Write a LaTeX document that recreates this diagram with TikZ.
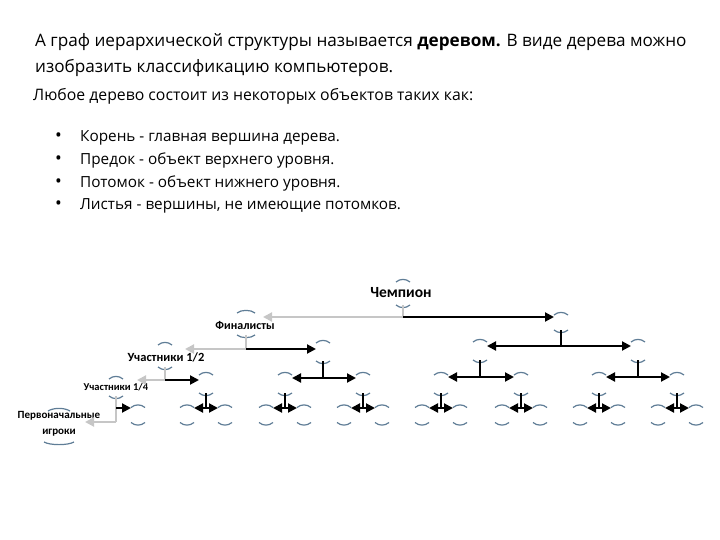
\documentclass[tikz,border=0pt]{standalone}
\usepackage{fontspec}
\setmainfont{Open Sans}
\newfontfamily\lblfont{Carlito}
\usetikzlibrary{arrows.meta,calc}
\definecolor{arcc}{RGB}{95,125,150}
\definecolor{grayl}{RGB}{198,198,198}
\newcommand\nodearcs[1]{%
  \draw[arcst] (#1.north west) .. controls ($(#1.north west)+(4,-3.5)$) and ($(#1.north east)+(-4,-3.5)$) .. (#1.north east);
  \draw[arcst] (#1.south west) .. controls ($(#1.south west)+(4,3.5)$) and ($(#1.south east)+(-4,3.5)$) .. (#1.south east);}
\begin{document}
\begin{tikzpicture}[x=1pt,y=-1pt,
  slot/.style={inner sep=0pt,outer sep=0pt,minimum width=14pt,minimum height=#1},
  slot/.default=18pt,
  arcst/.style={draw=arcc,line width=1.2pt},
  bline/.style={draw=black,line width=1.6pt},
  gline/.style={draw=grayl,line width=1.6pt},
  barr/.style={draw=black,line width=2pt,-{Triangle[length=9pt,width=9pt]}},
  garr/.style={draw=grayl,line width=2pt,-{Triangle[length=9pt,width=9pt]}},
  hdr/.style={anchor=base west,inner sep=0pt,font=\fontsize{17.15}{20}\selectfont},
  sub/.style={anchor=base west,inner sep=0pt,font=\fontsize{15.3}{18}\selectfont},
  lbl/.style={inner sep=0pt,font=\lblfont\bfseries\fontsize{#1}{#1}\selectfont},
]
\useasboundingbox (0,0) rectangle (720,540);

% ---------- text ----------
\node[hdr] (t1) at (35,47) {А граф иерархической структуры называется \textbf{деревом.} В виде дерева можно};
\node[hdr] (t2) at (35,73) {изобразить классификацию компьютеров.};
\node[sub,font=\fontsize{15.8}{18}\selectfont] (t3) at (33,101) {Любое дерево состоит из некоторых объектов таких как:};
\node[sub,font=\fontsize{18}{18}\selectfont] (b1t) at (55,142) {•};
\node[sub,font=\fontsize{18}{18}\selectfont] (b2t) at (55,165) {•};
\node[sub,font=\fontsize{18}{18}\selectfont] (b3t) at (55,188) {•};
\node[sub,font=\fontsize{18}{18}\selectfont] (b4t) at (55,210) {•};
\node[sub] (l1) at (80,142) {Корень - главная вершина дерева.};
\node[sub] (l2) at (80,165) {Предок - объект верхнего уровня.};
\node[sub] (l3) at (80,188) {Потомок - объект нижнего уровня.};
\node[sub] (l4) at (80,210) {Листья - вершины, не имеющие потомков.};

% ---------- tree slots ----------
\node[slot=23pt] (C) at (403,293.5) {};
\node[slot=22pt,minimum width=18pt] (F) at (246,324) {};
\node[slot=15pt] (a) at (561,322.5) {};
\node[slot=22pt] (U2) at (165,356) {};
\node[slot] (b1) at (323,352) {};
\node[slot] (b2) at (480,351) {};
\node[slot] (b3) at (638,351) {};
\node[slot=17pt] (U4) at (116,387.5) {};
\node[slot] (c2) at (206,384) {};
\node[slot] (c3) at (285,384) {};
\node[slot] (c4) at (363,384) {};
\node[slot] (c5) at (441,384) {};
\node[slot] (c6) at (521,384) {};
\node[slot] (c7) at (599,384) {};
\node[slot] (c8) at (677,384) {};
\node[slot=31pt,minimum width=22pt] (P) at (59,426.5) {};
\foreach \n/\x in {d1/138,d3/187,d4/225,d5/266,d6/304,d7/344,d8/382,d9/422,d10/460,d11/502,d12/540,d13/580,d14/618,d15/658,d16/696}
  \node[slot=15pt] (\n) at (\x,415) {};

% arcs
\foreach \n in {C,F,a,U2,b1,b2,b3,U4,c2,c3,c4,c5,c6,c7,c8,d1,d3,d4,d5,d6,d7,d8,d9,d10,d11,d12,d13,d14,d15,d16}
  {\nodearcs{\n}}
\draw[arcst] (P.north west) .. controls ($(P.north west)+(6,-3.5)$) and ($(P.north east)+(-6,-3.5)$) .. (P.north east);
\draw[arcst] ($(P.south)+(-15,0)$) .. controls ($(P.south)+(-9,3.5)$) and ($(P.south)+(9,3.5)$) .. ($(P.south)+(15,0)$);

% labels
\node[lbl=15.5] (Ct) at (401,293) {Чемпион};
\node[lbl=12] (Ft) at (245,325) {Финалисты};
\node[lbl=12.5] (U2t) at (166,357) {Участники 1/2};
\node[lbl=10.5] (U4t) at (116,387) {Участники 1/4};
\node[lbl=11] (Pt1) at (59,416) {Первоначальные};
\node[lbl=11] (Pt2) at (59,433) {игроки};

% ---------- connectors ----------
\coordinate (jC) at ($(C.south)+(0,12)$);
\draw[gline] (C.south) -- (jC);
\draw[garr] (jC) -- ($(jC -| F.east)+(8,0)$);
\draw[barr] (jC) -- (jC -| a.west);

\coordinate (jF) at ($(F.south)+(0,14)$);
\draw[gline] (F.south) -- (jF);
\draw[garr] (jF) -- ($(jF -| U2.east)+(13,0)$);
\draw[barr] (jF) -- (jF -| b1.west);

\coordinate (ja) at ($(a.south)+(0,16)$);
\draw[bline] (a.south) -- (ja);
\draw[barr] (ja) -- (ja -| b2.east);
\draw[barr] (ja) -- (ja -| b3.west);

\coordinate (jU2) at ($(U2.south)+(0,13)$);
\draw[gline] (U2.south) -- (jU2);
\draw[garr] (jU2) -- ($(jU2 -| U4.east)+(14,0)$);
\draw[barr] (jU2) -- (jU2 -| c2.west);

\foreach \p/\l/\r in {b1/c3/c4,b2/c5/c6,b3/c7/c8}{
  \coordinate (j\p) at ($(\p.south)+(0,17)$);
  \draw[bline] (\p.south) -- (j\p);
  \draw[barr] (j\p) -- (j\p -| \l.east);
  \draw[barr] (j\p) -- (j\p -| \r.west);
}

\coordinate (jU4) at ($(U4.south)+(0,12)$);
\coordinate (kU4) at ($(U4.south)+(0,26)$);
\draw[gline] (U4.south) -- (kU4);
\draw[garr] (kU4) -- ($(kU4 -| P.east)+(15,0)$);
\draw[barr] (jU4) -- (jU4 -| d1.west);

\foreach \p/\l/\r in {c2/d3/d4,c3/d5/d6,c4/d7/d8,c5/d9/d10,c6/d11/d12,c7/d13/d14,c8/d15/d16}{
  \coordinate (j\p) at ($(\p.south)+(0,15)$);
  \draw[bline] (\p.south) -- (j\p);
  \draw[barr] (j\p) -- (j\p -| \l.east);
  \draw[barr] (j\p) -- (j\p -| \r.west);
}
\end{tikzpicture}
\end{document}
